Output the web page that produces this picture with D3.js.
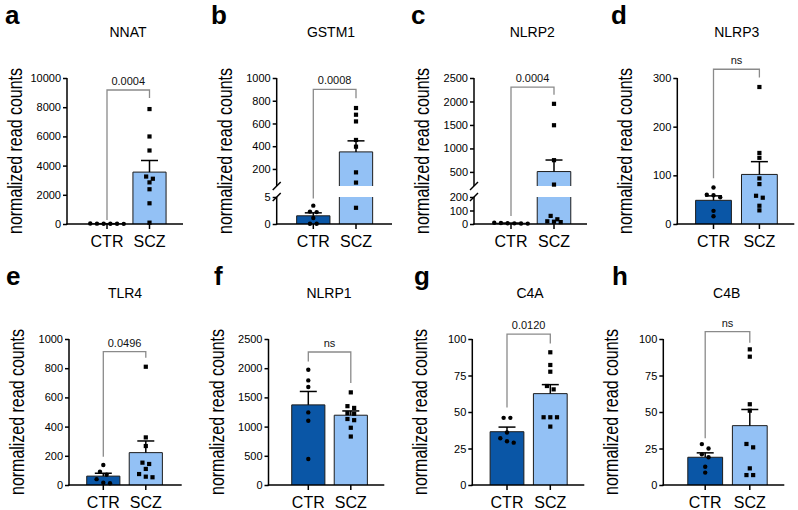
<!DOCTYPE html>
<html><head><meta charset="utf-8">
<script src="https://cdn.jsdelivr.net/npm/d3@7"></script>
<style>
body{margin:0;background:#fff;}
svg{display:block;font-family:"Liberation Sans",Arial,Helvetica,sans-serif;}
</style></head><body>
<svg id="chart" width="798" height="510"></svg>
<script>
// ---------------- data ----------------
const groups = ["CTR", "SCZ"];
const genes = ["NNAT", "GSTM1", "NLRP2", "NLRP3", "TLR4", "NLRP1", "C4A", "C4B"];
const panelLetters = ["a", "b", "c", "d", "e", "f", "g", "h"];
const pLabels = ["0.0004", "0.0008", "0.0004", "ns", "0.0496", "ns", "0.0120", "ns"];
const yTitle = "normalized read counts";

const ctrNNAT = [18, 12, 25, 9, 30, 15];
const sczNNAT = [7872, 5995, 5034, 3250, 3100, 2850, 2380, 1419, 92];
const ctrGSTM1 = [3.4, 2.3, 2.2, 1.1, 0.05, 0.05];
const sczGSTM1 = [736, 677, 618, 455, 396, 170, 80, 3.0, 15];
const ctrNLRP2 = [6, 9, 4, 7, 3, 5];
const sczNLRP2 = [1950, 1494, 750, 230, 60, 35, 20, 17, 14];
const ctrNLRP3 = [75, 59, 60, 55, 27, 16];
const sczNLRP3 = [281.5, 146, 136, 93.7, 82, 58, 54, 37.5, 28];
const ctrTLR4 = [137, 91, 70, 40, 15, 12];
const sczTLR4 = [810, 326, 267, 153, 144, 110, 75, 57, 53];
const ctrNLRP1 = [1974, 1791, 1678, 1243, 1101, 445];
const sczNLRP1 = [1586, 1350, 1320, 1230, 1220, 1130, 1110, 980, 830];
const ctrC4A = [46, 46, 36, 32, 30, 29];
const sczC4A = [90.9, 82.2, 77.6, 67.8, 65.5, 46.4, 46.4, 46.4, 40];
const ctrC4B = [28, 25, 21, 19, 12.5, 8.5];
const sczC4B = [92.9, 87.9, 55.3, 50.9, 28.1, 25.8, 11.4, 6.8, 6.8];

// axis segments (domains) and tick values per segment
const segNNAT = [[0, 10000]];           const ticksNNAT = [[0, 2000, 4000, 6000, 8000, 10000]];
const segGSTM1 = [[0, 5], [50, 1000]];  const ticksGSTM1 = [[0, 5], [200, 400, 600, 800, 1000]];
const segNLRP2 = [[0, 200], [200, 2500]]; const ticksNLRP2 = [[0, 100, 200], [500, 1000, 1500, 2000, 2500]];
const segNLRP3 = [[0, 300]];            const ticksNLRP3 = [[0, 100, 200, 300]];
const segTLR4 = [[0, 1000]];            const ticksTLR4 = [[0, 200, 400, 600, 800, 1000]];
const segNLRP1 = [[0, 2500]];           const ticksNLRP1 = [[0, 500, 1000, 1500, 2000, 2500]];
const segC4A = [[0, 100]];              const ticksC4A = [[0, 25, 50, 75, 100]];
const segC4B = [[0, 100]];              const ticksC4B = [[0, 25, 50, 75, 100]];

// significance bracket: [bar height, left leg end, right leg end] in data units
const brNNAT = [9178, 274, 8630];
const brGSTM1 = [900, 4.7, 821];
const brNLRP2 = [2307, 60, 2142];
const brNLRP3 = [318, 94, 301];
const brTLR4 = [913, 194, 872];
const brNLRP1 = [2277, 2116, 1746];
const brC4A = [103.4, 53, 97];
const brC4B = [105, 32, 97.5];

const ctrAll = [ctrNNAT, ctrGSTM1, ctrNLRP2, ctrNLRP3, ctrTLR4, ctrNLRP1, ctrC4A, ctrC4B];
const sczAll = [sczNNAT, sczGSTM1, sczNLRP2, sczNLRP3, sczTLR4, sczNLRP1, sczC4A, sczC4B];
const segAll = [segNNAT, segGSTM1, segNLRP2, segNLRP3, segTLR4, segNLRP1, segC4A, segC4B];
const ticksAll = [ticksNNAT, ticksGSTM1, ticksNLRP2, ticksNLRP3, ticksTLR4, ticksNLRP1, ticksC4A, ticksC4B];
const brAll = [brNNAT, brGSTM1, brNLRP2, brNLRP3, brTLR4, brNLRP1, brC4A, brC4B];

// ---------------- layout ----------------
const rows = [
  {y0: 224, yTop: 78, letterY: 24, titleY: 37, xlabY: 247},
  {y0: 485, yTop: 339, letterY: 285, titleY: 298, xlabY: 508}
];
const layout = [
  {row: 0, axisX: 67,    ctrX: 107,   sczX: 149.5, xEnd: 183,   titleX: 128,   letterX: 5},
  {row: 0, axisX: 276.7, ctrX: 313.3, sczX: 356,   xEnd: 392,   titleX: 331,   letterX: 211},
  {row: 0, axisX: 474,   ctrX: 511,   sczX: 554,   xEnd: 587,   titleX: 532.3, letterX: 411},
  {row: 0, axisX: 677.3, ctrX: 713.5, sczX: 759.4, xEnd: 794.3, titleX: 736.7, letterX: 611},
  {row: 1, axisX: 69,    ctrX: 103.3, sczX: 145.8, xEnd: 181.7, titleX: 125,   letterX: 6},
  {row: 1, axisX: 268.5, ctrX: 308.3, sczX: 350.8, xEnd: 384.3, titleX: 329,   letterX: 214},
  {row: 1, axisX: 472.3, ctrX: 507,   sczX: 550.3, xEnd: 584.3, titleX: 530,   letterX: 414},
  {row: 1, axisX: 663.3, ctrX: 705.2, sczX: 749.8, xEnd: 784.3, titleX: 726.7, letterX: 612}
];
const colors = {CTR: "#0a56a6", SCZ: "#93c1f5"};
const lowerH = 27, gapH = 11;

const svg = d3.select("#chart");

function swarm(vals, y, cx, d, thr) {
  const pts = vals.map(v => ({v, py: y(v)})).filter(p => p.py !== null).sort((a, b) => a.py - b.py);
  const out = [];
  let i = 0;
  while (i < pts.length) {
    let j = i;
    while (j + 1 < pts.length && pts[j + 1].py - pts[i].py < thr) j++;
    const n = j - i + 1;
    for (let k = 0; k < n; k++) out.push({...pts[i + k], px: cx + (k - (n - 1) / 2) * d});
    i = j + 1;
  }
  return out;
}

genes.forEach((gene, i) => {
  const L = layout[i], R = rows[L.row];
  const segs = segAll[i];
  const g = svg.append("g");

  // y scales (one or two segments)
  let parts;
  if (segs.length === 1) {
    parts = [d3.scaleLinear().domain(segs[0]).range([R.y0, R.yTop])];
  } else {
    const lowTop = R.y0 - lowerH, upBot = lowTop - gapH;
    parts = [d3.scaleLinear().domain(segs[0]).range([R.y0, lowTop]),
             d3.scaleLinear().domain(segs[1]).range([upBot, R.yTop])];
  }
  const y = v => {
    const last = parts[parts.length - 1];
    if (v > last.domain()[1]) return last(v);   // above the axis top (brackets)
    for (const s of parts) {
      const d = s.domain();
      if (v >= d[0] - 1e-9 && v <= d[1] + 1e-9) return s(v);
    }
    return null;                                 // falls inside the axis break
  };

  const x = d3.scalePoint().domain(groups).range([L.ctrX, L.sczX]);
  const bw = 0.78 * (L.sczX - L.ctrX);
  const data = {CTR: ctrAll[i], SCZ: sczAll[i]};

  // bars
  groups.forEach(grp => {
    const vals = data[grp];
    const m = d3.mean(vals);
    const sem = d3.deviation(vals) / Math.sqrt(vals.length);
    const cx = x(grp);
    parts.forEach(s => {
      const [d0, d1] = s.domain();
      if (m <= d0) return;
      const top = Math.min(m, d1);
      const yb = s(d0), yt = s(top);
      g.append("rect").attr("x", cx - bw / 2).attr("y", yt).attr("width", bw).attr("height", yb - yt)
        .attr("fill", colors[grp]);
      const isTop = m <= d1;
      const path = isTop
        ? `M${cx - bw / 2},${yb}V${yt}H${cx + bw / 2}V${yb}`
        : `M${cx - bw / 2},${yb}V${yt}M${cx + bw / 2},${yt}V${yb}`;
      g.append("path").attr("d", path).attr("fill", "none").attr("stroke", "#1c1c1c").attr("stroke-width", 1);
    });
    // SEM error bar
    const ym = y(m), ye = y(m + sem);
    if (ym !== null && ye !== null) {
      g.append("line").attr("x1", cx).attr("x2", cx).attr("y1", ym).attr("y2", ye)
        .attr("stroke", "#000").attr("stroke-width", 1.5);
      g.append("line").attr("x1", cx - 8.5).attr("x2", cx + 8.5).attr("y1", ye).attr("y2", ye)
        .attr("stroke", "#000").attr("stroke-width", 1.5);
    }
    // points
    const pts = swarm(vals, y, cx, 6.7, 4.5);
    if (grp === "CTR") {
      g.selectAll(null).data(pts).enter().append("circle")
        .attr("cx", d => d.px).attr("cy", d => d.py).attr("r", 2.2).attr("fill", "#000");
    } else {
      g.selectAll(null).data(pts).enter().append("rect")
        .attr("x", d => d.px - 2.1).attr("y", d => d.py - 2.1).attr("width", 4.2).attr("height", 4.2).attr("fill", "#000");
    }
  });

  // y axis
  parts.forEach((s, k) => {
    const ax = g.append("g").attr("transform", `translate(${L.axisX},0)`)
      .call(d3.axisLeft(s).tickValues(ticksAll[i][k]).tickSize(4).tickPadding(2).tickFormat(d3.format("d")));
    ax.select(".domain").remove();
    ax.selectAll(".tick line").attr("stroke", "#000").attr("stroke-width", 1.5);
    ax.selectAll(".tick text").attr("fill", "#000").style("font-size", "11px")
      .style("font-family", '"Liberation Sans",Arial,sans-serif');
    const r = s.range();
    g.append("line").attr("x1", L.axisX).attr("x2", L.axisX).attr("y1", r[0] + (k === 0 ? 0.75 : 0)).attr("y2", r[1])
      .attr("stroke", "#000").attr("stroke-width", 1.5);
  });
  if (parts.length > 1) {
    [parts[0].range()[1], parts[1].range()[0]].forEach(e => {
      g.append("line").attr("x1", L.axisX - 4).attr("x2", L.axisX + 4).attr("y1", e + 4).attr("y2", e - 4)
        .attr("stroke", "#000").attr("stroke-width", 1.5);
    });
  }

  // x axis
  g.append("line").attr("x1", L.axisX - 0.75).attr("x2", L.xEnd).attr("y1", R.y0).attr("y2", R.y0)
    .attr("stroke", "#000").attr("stroke-width", 1.5);
  groups.forEach(grp => {
    g.append("line").attr("x1", x(grp)).attr("x2", x(grp)).attr("y1", R.y0).attr("y2", R.y0 + 5)
      .attr("stroke", "#000").attr("stroke-width", 1.5);
    g.append("text").attr("x", x(grp)).attr("y", R.xlabY).attr("text-anchor", "middle")
      .style("font-size", "16px").attr("fill", "#000").text(grp);
  });

  // bracket
  const [bt, bl, br] = brAll[i];
  const yBt = y(bt);
  g.append("path")
    .attr("d", `M${x("CTR")},${y(bl)}V${yBt}H${x("SCZ")}V${y(br)}`)
    .attr("fill", "none").attr("stroke", "#8a8a8a").attr("stroke-width", 1.3);
  g.append("text").attr("x", (x("CTR") + x("SCZ")) / 2).attr("y", yBt - 5).attr("text-anchor", "middle")
    .style("font-size", "11px").attr("fill", "#111").text(pLabels[i]);

  // titles
  g.append("text").attr("x", L.titleX).attr("y", R.titleY).attr("text-anchor", "middle")
    .style("font-size", "14px").attr("fill", "#000").text(gene);
  g.append("text").attr("x", L.letterX).attr("y", R.letterY)
    .style("font-size", "26px").style("font-weight", "bold").attr("fill", "#000").text(panelLetters[i]);
  g.append("text")
    .attr("transform", `translate(${L.axisX - 45},${(R.y0 + R.yTop) / 2}) rotate(-90)`)
    .attr("text-anchor", "middle").attr("textLength", 166).attr("lengthAdjust", "spacingAndGlyphs")
    .style("font-size", "20px").attr("fill", "#000").text(yTitle);
});
</script>
</body></html>
